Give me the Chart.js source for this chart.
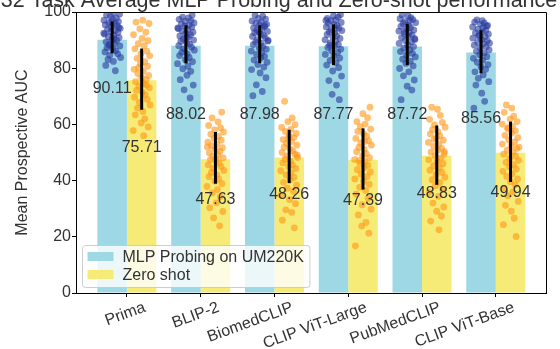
<!DOCTYPE html>
<html>
<head>
<meta charset="utf-8">
<script src="https://cdn.jsdelivr.net/npm/chart.js@4.4.1/dist/chart.umd.min.js"></script>
<style>
html,body{margin:0;padding:0;background:#fff;}
#wrap{width:560px;height:349px;position:relative;}
</style>
</head>
<body>
<div id="wrap"><canvas id="c" width="560" height="349"></canvas></div>
<script>
// ---------------- data ----------------
const categories = ['Prima', 'BLIP-2', 'BiomedCLIP', 'CLIP ViT-Large', 'PubMedCLIP', 'CLIP ViT-Base'];
const seriesNames = ['MLP Probing on UM220K', 'Zero shot'];
const mlpMeans  = [90.11, 88.02, 87.98, 87.77, 87.72, 85.56];
const zeroMeans = [75.71, 47.63, 48.26, 47.39, 48.83, 49.94];
const mlpErrHigh  = [96.6, 95.3, 95.3, 95.6, 95.8, 93.5];
const mlpErrLow   = [85.3, 81.7, 81.8, 81.1, 81.1, 78.2];
const zeroErrHigh = [87.0, 57.3, 58.1, 58.6, 59.6, 61.0];
const zeroErrLow  = [65.2, 38.9, 39.1, 36.8, 38.5, 39.5];
const mlpLabelY  = [72.7, 63.5, 63.5, 63.5, 63.5, 62.0];
const zeroLabelY = [51.6, 33.4, 35.0, 33.0, 35.4, 35.8];
const yTicks = [0, 20, 40, 60, 80, 100];
const titleText = '32 Task Average MLP Probing and Zero-shot performance';

const mlpPoints = [
  [99.6, 98.9, 99.2, 98.4, 97.8, 97.1, 97.5, 96.6, 96.2, 95.9, 95.4, 95.1, 94.7, 94.2, 93.9, 93.4, 93.0, 92.7, 92.1, 91.8, 91.2, 90.9, 90.3, 89.9, 89.4, 88.8, 88.5, 87.9, 87.3, 86.9, 86.2, 85.8, 85.1, 84.6, 83.8, 83.1, 82.4, 81.0, 79.1, 96.3, 94.4, 92.5, 90.6, 88.1],
  [98.9, 98.2, 97.9, 97.4, 96.9, 96.7, 96.1, 95.8, 95.3, 95.0, 94.6, 94.1, 93.7, 93.3, 92.8, 92.4, 91.9, 91.5, 91.1, 90.4, 90.0, 89.5, 89.1, 88.6, 88.0, 87.5, 86.9, 86.4, 85.7, 85.1, 84.5, 83.8, 83.0, 82.3, 81.6, 80.7, 79.8, 78.9, 77.5, 75.9, 74.0, 72.3, 69.4, 94.3, 90.8],
  [98.8, 98.5, 97.7, 97.5, 96.8, 96.4, 96.0, 95.6, 95.4, 94.8, 94.3, 94.0, 93.5, 93.1, 92.6, 92.2, 91.7, 91.3, 90.8, 90.2, 89.9, 89.3, 88.9, 88.4, 87.8, 87.2, 86.7, 86.1, 85.5, 84.9, 84.2, 83.6, 82.9, 82.1, 81.3, 80.4, 79.5, 78.3, 76.6, 74.1, 71.7, 70.2, 95.1, 92.9, 89.6],
  [99.0, 98.6, 98.2, 97.7, 97.2, 96.9, 96.3, 96.0, 95.5, 95.1, 94.7, 94.2, 93.8, 93.4, 92.9, 92.5, 92.0, 91.6, 91.0, 90.6, 90.1, 89.6, 89.0, 88.5, 87.9, 87.4, 86.8, 86.2, 85.6, 84.9, 84.3, 83.6, 82.8, 82.0, 81.1, 80.2, 79.0, 77.2, 75.6, 74.0, 70.7, 68.8, 97.0, 94.0, 88.2],
  [98.9, 98.7, 98.0, 97.6, 97.3, 96.6, 96.2, 95.9, 95.3, 94.9, 94.5, 94.0, 93.6, 93.2, 92.7, 92.3, 91.8, 91.4, 90.9, 90.5, 89.9, 89.4, 88.8, 88.3, 87.7, 87.1, 86.5, 85.9, 85.3, 84.6, 84.0, 83.2, 82.5, 81.7, 80.8, 79.9, 78.7, 77.3, 75.8, 73.6, 72.2, 68.8, 96.9, 93.0, 90.2],
  [97.2, 96.9, 96.4, 96.1, 95.6, 95.2, 94.7, 94.4, 93.9, 93.5, 93.0, 92.6, 92.1, 91.7, 91.2, 90.7, 90.2, 89.8, 89.2, 88.7, 88.2, 87.6, 87.1, 86.5, 86.0, 85.4, 84.8, 84.1, 83.5, 82.8, 82.1, 81.3, 80.5, 79.6, 78.7, 77.6, 76.4, 75.2, 74.0, 71.1, 68.2, 65.8, 95.0, 91.5, 88.9]
];
const zeroPoints = [
  [97.1, 96.4, 95.9, 94.0, 92.8, 91.9, 90.6, 89.8, 88.7, 88.0, 86.9, 86.1, 85.2, 84.4, 83.5, 82.3, 81.6, 80.7, 79.6, 78.9, 78.1, 77.4, 76.6, 75.9, 75.2, 74.5, 73.7, 73.0, 72.1, 71.4, 70.6, 69.7, 68.9, 67.8, 66.9, 65.8, 64.6, 63.4, 62.0, 60.5, 59.1, 57.8, 56.0, 80.2, 74.0],
  [64.4, 62.3, 60.9, 59.6, 58.8, 58.0, 57.3, 56.5, 55.7, 55.0, 54.4, 53.7, 53.0, 52.4, 51.7, 51.1, 50.4, 49.9, 49.2, 48.7, 48.1, 47.5, 46.9, 46.2, 45.6, 45.0, 44.3, 43.6, 42.9, 42.1, 41.4, 40.6, 39.8, 38.9, 37.9, 36.8, 35.6, 34.3, 32.1, 30.3, 29.0, 26.7, 23.9, 52.0, 47.8],
  [68.2, 62.3, 61.0, 59.9, 58.9, 58.2, 57.5, 56.8, 56.0, 55.3, 54.6, 53.9, 53.2, 52.6, 51.9, 51.3, 50.6, 50.0, 49.4, 48.8, 48.2, 47.6, 46.9, 46.3, 45.6, 45.0, 44.3, 43.5, 42.8, 42.0, 41.2, 40.3, 39.4, 38.4, 37.3, 36.2, 34.9, 33.3, 31.8, 29.6, 28.7, 25.9, 23.2, 55.1, 49.1],
  [66.1, 63.8, 62.4, 61.0, 60.1, 59.2, 58.3, 57.5, 56.6, 55.8, 55.0, 54.2, 53.4, 52.6, 51.8, 51.1, 50.3, 49.6, 48.9, 48.2, 47.5, 46.8, 46.1, 45.4, 44.6, 43.9, 43.1, 42.3, 41.4, 40.6, 39.7, 38.7, 37.6, 36.5, 35.2, 33.7, 31.4, 29.8, 27.8, 25.1, 23.8, 21.3, 16.8, 53.9, 47.2],
  [66.1, 65.4, 63.2, 61.8, 60.7, 59.8, 59.0, 58.2, 57.4, 56.6, 55.9, 55.1, 54.4, 53.6, 52.9, 52.2, 51.5, 50.8, 50.1, 49.5, 48.8, 48.1, 47.4, 46.7, 46.0, 45.2, 44.5, 43.7, 42.9, 42.1, 41.2, 40.3, 39.3, 38.2, 37.0, 35.8, 34.4, 32.0, 30.6, 29.1, 27.4, 25.6, 22.5, 54.7, 50.3],
  [66.9, 65.8, 64.3, 62.9, 61.9, 61.0, 60.1, 59.3, 58.5, 57.7, 56.9, 56.1, 55.3, 54.5, 53.8, 53.0, 52.3, 51.5, 50.8, 50.1, 49.4, 48.7, 47.9, 47.2, 46.5, 45.7, 44.9, 44.1, 43.3, 42.4, 41.5, 40.6, 39.6, 38.5, 37.3, 36.0, 34.6, 32.6, 31.2, 29.1, 26.6, 24.3, 20.1, 58.8, 51.9]
];

// ---------------- style / layout ----------------
const FONT = "'Liberation Sans', Arial, Helvetica, sans-serif";
const TEXT = '#333333';
const BLUE = '#9ED8E4';
const YELLOW = '#F6EB76';
const JITTER = [0.12,-0.64,0.83,-0.21,0.47,-0.92,0.05,0.71,-0.38,0.29,-0.77,0.58,-0.09,0.91,-0.52,0.34,-0.15,0.66,-0.86,0.18,-0.43,0.79,-0.01,0.52,-0.69,0.25,-0.31,0.87,-0.58,0.08,0.41,-0.81,0.63,-0.26,0.95,-0.47,0.14,-0.72,0.36,-0.05,0.74,-0.95,0.22,-0.35,0.55];
const JIT_W = 0.12;
const SIDE = 0.2;

function scatterData(groups, side) {
  const out = [];
  groups.forEach((vals, i) => {
    vals.forEach((v, k) => {
      out.push({ x: i + side * SIDE + JITTER[(k + i * 7) % JITTER.length] * JIT_W, y: v });
    });
  });
  return out;
}

const overlayPlugin = {
  id: 'overlay',
  afterDatasetsDraw(chart) {
    const ctx = chart.ctx;
    const y = chart.scales.y;
    const series = [
      { meta: chart.getDatasetMeta(2), hi: mlpErrHigh, lo: mlpErrLow, means: mlpMeans, ly: mlpLabelY },
      { meta: chart.getDatasetMeta(3), hi: zeroErrHigh, lo: zeroErrLow, means: zeroMeans, ly: zeroLabelY }
    ];
    ctx.save();
    ctx.font = '16px ' + FONT;
    ctx.fillStyle = TEXT;
    ctx.textAlign = 'center';
    ctx.textBaseline = 'middle';
    series.forEach(s => {
      s.meta.data.forEach((bar, i) => {
        ctx.fillText(s.means[i].toFixed(2), bar.x, y.getPixelForValue(s.ly[i]));
      });
    });
    ctx.strokeStyle = '#000';
    ctx.lineWidth = 3;
    ctx.lineCap = 'butt';
    series.forEach(s => {
      s.meta.data.forEach((bar, i) => {
        ctx.beginPath();
        ctx.moveTo(bar.x, y.getPixelForValue(s.hi[i]));
        ctx.lineTo(bar.x, y.getPixelForValue(s.lo[i]));
        ctx.stroke();
      });
    });
    ctx.restore();
  },
  afterDraw(chart) {
    const ctx = chart.ctx;
    const ca = chart.chartArea;
    ctx.save();
    ctx.strokeStyle = '#000';
    ctx.lineWidth = 1;
    const t = Math.floor(ca.top) + 0.5, r = Math.floor(ca.right) + 0.5;
    ctx.beginPath();
    ctx.moveTo(Math.floor(ca.left), t);
    ctx.lineTo(r, t);
    ctx.lineTo(r, Math.ceil(ca.bottom));
    ctx.stroke();

    const ds = chart.data.datasets;
    const items = [ds[2], ds[3]];
    ctx.font = '16px ' + FONT;
    const tw = Math.max(...items.map(d => ctx.measureText(d.label).width));
    const bx = ca.left + 6.5, bh = 42, by = ca.bottom - 6 - bh;
    const bw = 40 + tw + 6;
    ctx.beginPath();
    ctx.roundRect(bx, by + 0.5, bw, bh, 3);
    ctx.fillStyle = 'rgba(255,255,255,0.8)';
    ctx.fill();
    ctx.strokeStyle = 'rgba(200,200,200,0.9)';
    ctx.stroke();
    items.forEach((d, k) => {
      const cy = by + 11.5 + k * 18;
      ctx.fillStyle = d.backgroundColor;
      ctx.fillRect(bx + 5, cy - 4.5, 26, 9);
      ctx.fillStyle = TEXT;
      ctx.textAlign = 'left';
      ctx.textBaseline = 'middle';
      ctx.fillText(d.label, bx + 40, cy + 1);
    });

    ctx.font = '21.5px ' + FONT;
    ctx.fillStyle = TEXT;
    ctx.textAlign = 'center';
    ctx.textBaseline = 'alphabetic';
    ctx.fillText(titleText, 279, 7);
    ctx.restore();
  }
};

new Chart(document.getElementById('c'), {
  type: 'bar',
  data: {
    datasets: [
      { type: 'scatter', label: 'mlp points', data: scatterData(mlpPoints, -1), backgroundColor: 'rgba(40,60,160,0.6)', borderWidth: 0, pointRadius: 3.4, order: 0 },
      { type: 'scatter', label: 'zero points', data: scatterData(zeroPoints, 1), backgroundColor: 'rgba(255,150,20,0.6)', borderWidth: 0, pointRadius: 3.4, order: 0 },
      { type: 'bar', label: seriesNames[0], data: mlpMeans.map((v, i) => ({ x: i, y: v })), backgroundColor: BLUE, borderWidth: 0, categoryPercentage: 0.8, barPercentage: 1.0, order: 1 },
      { type: 'bar', label: seriesNames[1], data: zeroMeans.map((v, i) => ({ x: i, y: v })), backgroundColor: YELLOW, borderWidth: 0, categoryPercentage: 0.8, barPercentage: 1.0, order: 1 }
    ]
  },
  options: {
    responsive: false,
    animation: false,
    events: [],
    layout: { padding: { left: 0, top: 12, right: 13.3, bottom: 0 } },
    plugins: { legend: { display: false }, tooltip: { enabled: false }, title: { display: false } },
    scales: {
      x: {
        type: 'linear',
        min: -0.69,
        max: 5.69,
        offset: false,
        afterBuildTicks: s => { s.ticks = categories.map((c, i) => ({ value: i })); },
        afterFit: s => { s.height = 56; },
        grid: { display: true, offset: false, drawOnChartArea: false, drawTicks: true, tickLength: 4, tickColor: '#000', tickWidth: 1 },
        border: { display: true, color: '#000', width: 1 },
        ticks: {
          autoSkip: false,
          minRotation: 20,
          maxRotation: 20,
          labelOffset: 18,
          padding: 1,
          font: { family: FONT, size: 16 },
          color: TEXT,
          callback: v => categories[v] !== undefined ? categories[v] : ''
        }
      },
      y: {
        min: 0,
        max: 100,
        afterBuildTicks: s => { s.ticks = yTicks.map(v => ({ value: v })); },
        afterFit: s => { s.width = 76; },
        grid: { display: true, drawOnChartArea: false, drawTicks: true, tickLength: 4, tickColor: '#000', tickWidth: 1 },
        border: { display: true, color: '#000', width: 1 },
        ticks: { padding: 1, font: { family: FONT, size: 16 }, color: TEXT },
        title: { display: true, text: 'Mean Prospective AUC', font: { family: FONT, size: 16 }, color: TEXT, padding: { top: 13, bottom: 0 } }
      }
    }
  },
  plugins: [overlayPlugin]
});
</script>
</body>
</html>
